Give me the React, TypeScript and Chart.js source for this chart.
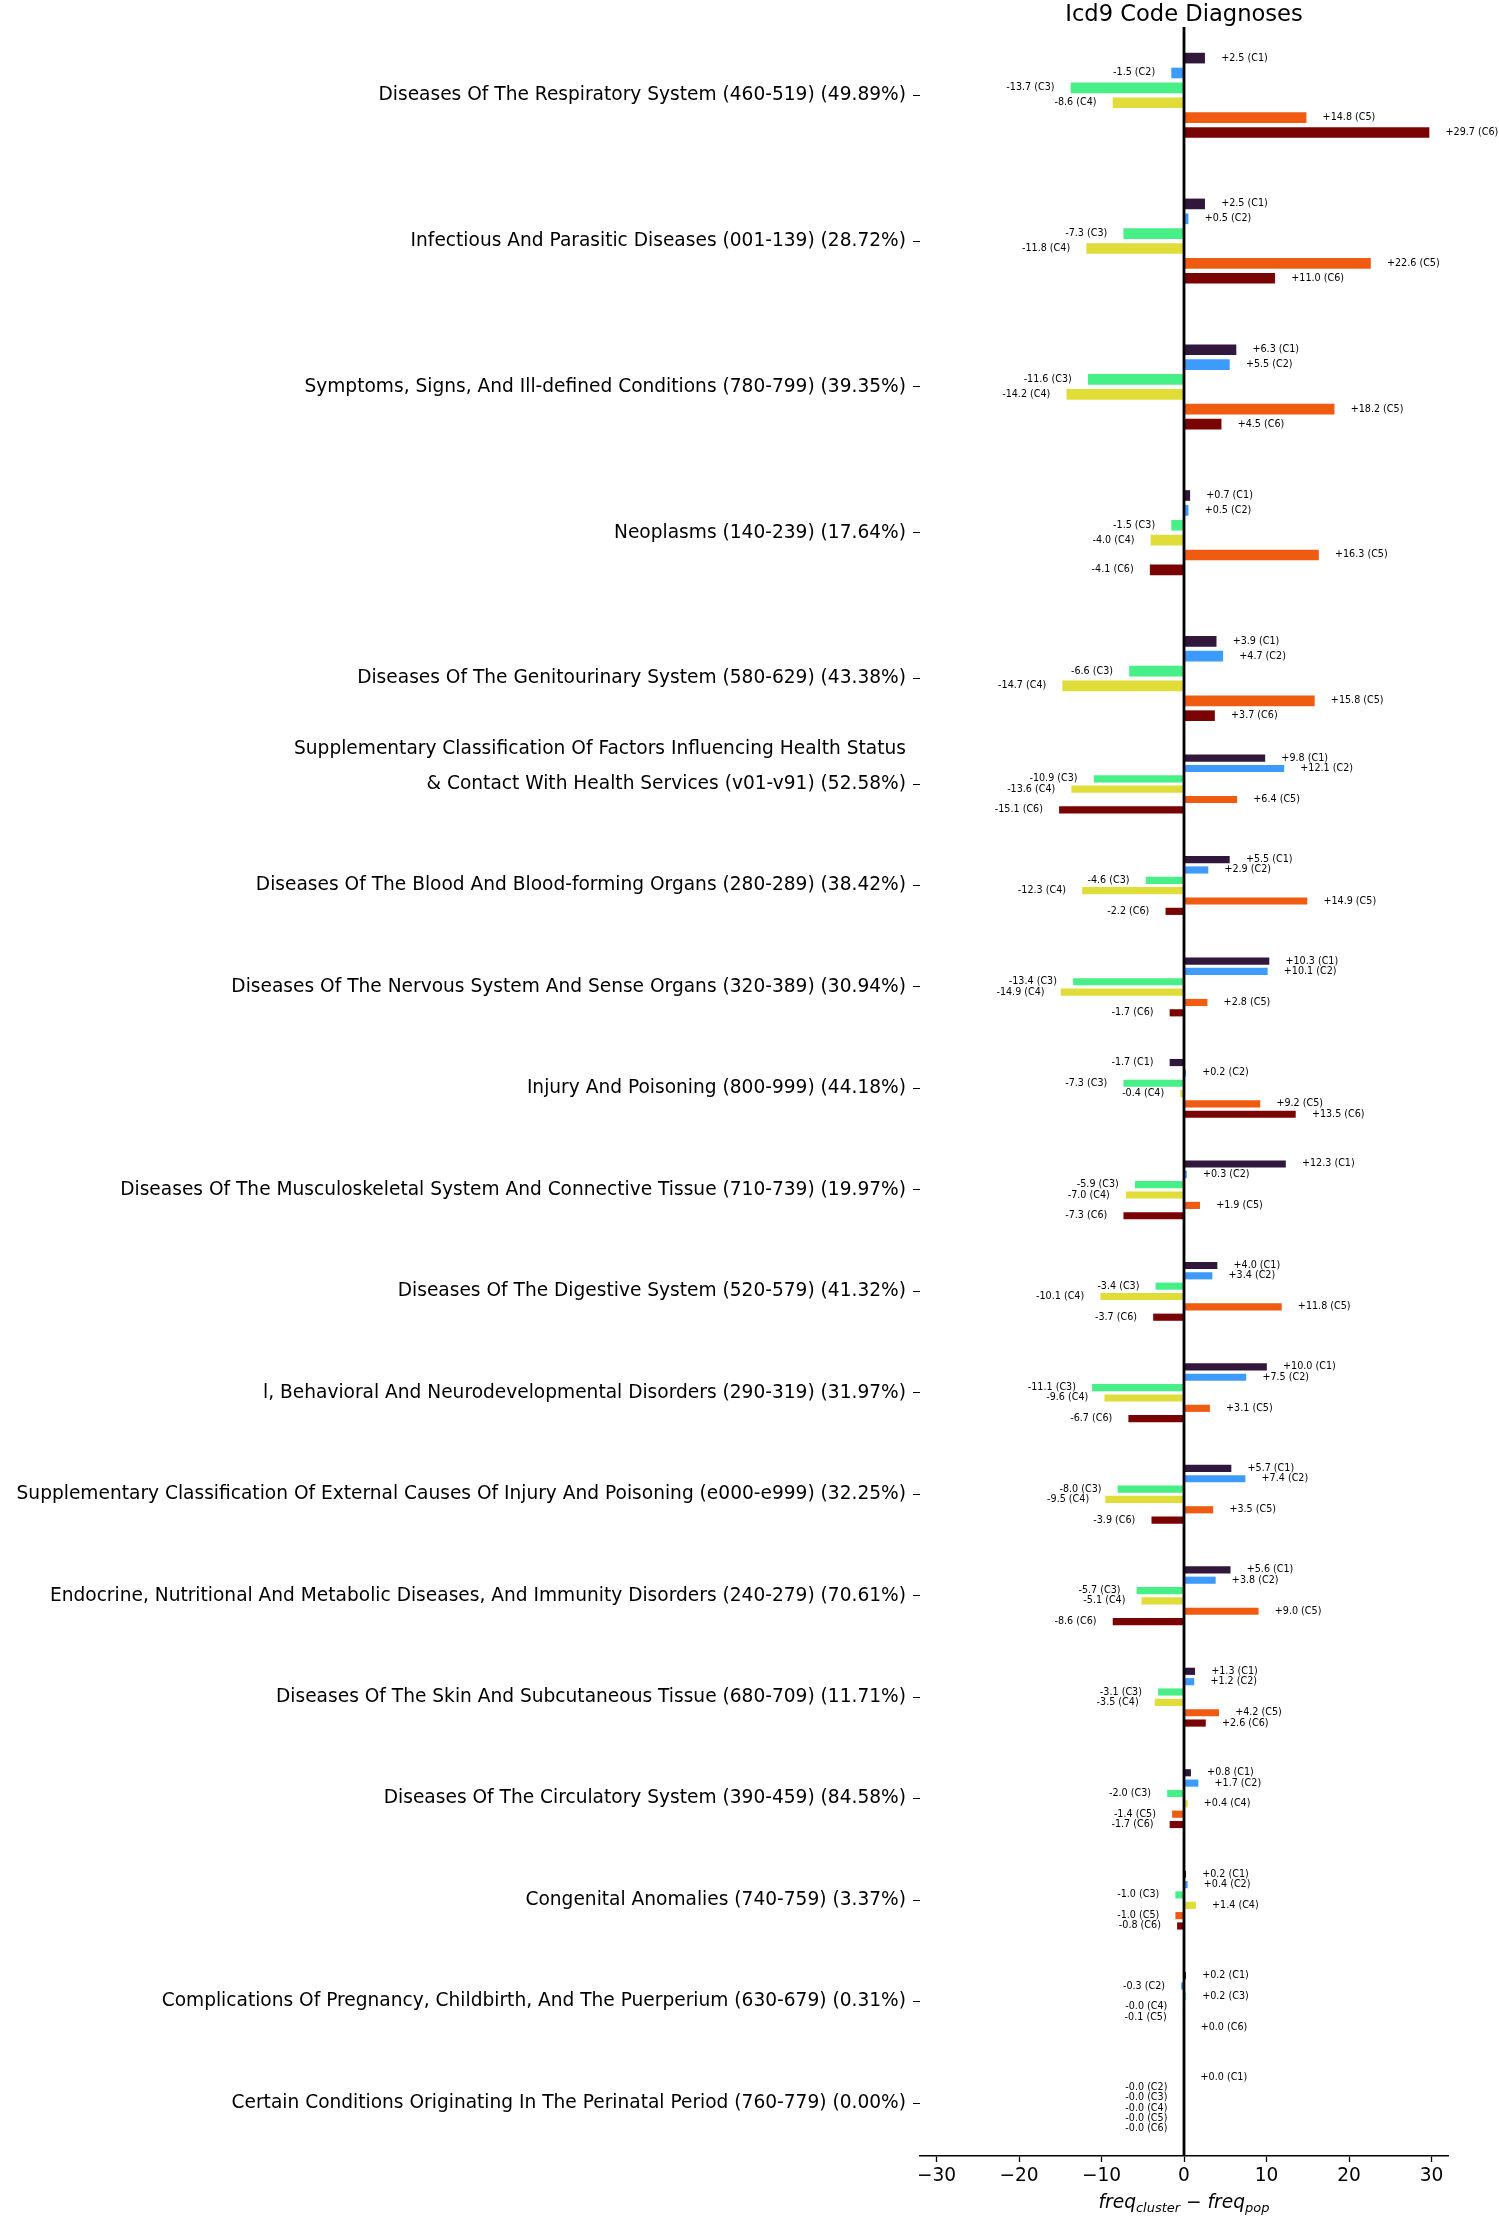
import React, { useEffect, useRef } from "react";
import { Chart, registerables } from "chart.js";

Chart.register(...registerables);

// ---------------- data ----------------
const TITLE = "Icd9 Code Diagnoses";

const CATEGORIES: (string | string[])[] = [
  "Diseases Of The Respiratory System (460-519) (49.89%)",
  "Infectious And Parasitic Diseases (001-139) (28.72%)",
  "Symptoms, Signs, And Ill-defined Conditions (780-799) (39.35%)",
  "Neoplasms (140-239) (17.64%)",
  "Diseases Of The Genitourinary System (580-629) (43.38%)",
  [
    "Supplementary Classification Of Factors Influencing Health Status",
    "& Contact With Health Services (v01-v91) (52.58%)",
    "",
  ],
  "Diseases Of The Blood And Blood-forming Organs (280-289) (38.42%)",
  "Diseases Of The Nervous System And Sense Organs (320-389) (30.94%)",
  "Injury And Poisoning (800-999) (44.18%)",
  "Diseases Of The Musculoskeletal System And Connective Tissue (710-739) (19.97%)",
  "Diseases Of The Digestive System (520-579) (41.32%)",
  "l, Behavioral And Neurodevelopmental Disorders (290-319) (31.97%)",
  "Supplementary Classification Of External Causes Of Injury And Poisoning (e000-e999) (32.25%)",
  "Endocrine, Nutritional And Metabolic Diseases, And Immunity Disorders (240-279) (70.61%)",
  "Diseases Of The Skin And Subcutaneous Tissue (680-709) (11.71%)",
  "Diseases Of The Circulatory System (390-459) (84.58%)",
  "Congenital Anomalies (740-759) (3.37%)",
  "Complications Of Pregnancy, Childbirth, And The Puerperium (630-679) (0.31%)",
  "Certain Conditions Originating In The Perinatal Period (760-779) (0.00%)",
];

const CLUSTERS = ["C1", "C2", "C3", "C4", "C5", "C6"];

const C1_VALUES = [2.5, 2.5, 6.3, 0.7, 3.9, 9.8, 5.5, 10.3, -1.7, 12.3, 4.0, 10.0, 5.7, 5.6, 1.3, 0.8, 0.2, 0.2, 0.01];
const C2_VALUES = [-1.5, 0.5, 5.5, 0.5, 4.7, 12.1, 2.9, 10.1, 0.2, 0.3, 3.4, 7.5, 7.4, 3.8, 1.2, 1.7, 0.4, -0.3, -0.01];
const C3_VALUES = [-13.7, -7.3, -11.6, -1.5, -6.6, -10.9, -4.6, -13.4, -7.3, -5.9, -3.4, -11.1, -8.0, -5.7, -3.1, -2.0, -1.0, 0.2, -0.01];
const C4_VALUES = [-8.6, -11.8, -14.2, -4.0, -14.7, -13.6, -12.3, -14.9, -0.4, -7.0, -10.1, -9.6, -9.5, -5.1, -3.5, 0.4, 1.4, -0.02, -0.01];
const C5_VALUES = [14.8, 22.6, 18.2, 16.3, 15.8, 6.4, 14.9, 2.8, 9.2, 1.9, 11.8, 3.1, 3.5, 9.0, 4.2, -1.4, -1.0, -0.1, -0.01];
const C6_VALUES = [29.7, 11.0, 4.5, -4.1, 3.7, -15.1, -2.2, -1.7, 13.5, -7.3, -3.7, -6.7, -3.9, -8.6, 2.6, -1.7, -0.8, 0.02, -0.01];

const SERIES = [C1_VALUES, C2_VALUES, C3_VALUES, C4_VALUES, C5_VALUES, C6_VALUES];

const X_TICKS = [-30, -20, -10, 0, 10, 20, 30];

// ---------------- layout / style ----------------
const W = 1499;
const H = 2219;
const FONT = "'DejaVu Sans', 'Noto Sans', sans-serif";
const COLORS = ["#32173d", "#3e9bfe", "#47f087", "#e0dc38", "#f05b12", "#7a0403"];

const TOP_ROWS = 5; // the first rows are drawn taller in the reference
const TOP_STRETCH = 1.437;
const JOIN_GAP = 1.04;
const BAR_STEP = 0.102;
const LABEL_GAP = 2; // data units between bar end and its annotation

const rowPos = (i: number) =>
  i < TOP_ROWS ? i * TOP_STRETCH : (TOP_ROWS - 1) * TOP_STRETCH + JOIN_GAP + (i - TOP_ROWS);
const rowScale = (i: number) => (i < TOP_ROWS ? TOP_STRETCH : 1);
const ROW_POSITIONS = CATEGORIES.map((_, i) => rowPos(i));
const Y_MIN = -0.673;
const Y_MAX = rowPos(CATEGORIES.length - 1) + 0.522;

function buildDatasets() {
  const out: any[] = [];
  SERIES.forEach((vals, k) => {
    const parts = [
      { idx: vals.map((_, i) => i).filter((i) => i < TOP_ROWS), thick: 10 },
      { idx: vals.map((_, i) => i).filter((i) => i >= TOP_ROWS), thick: 6.5 },
    ];
    parts.forEach((p) => {
      out.push({
        label: CLUSTERS[k],
        cluster: CLUSTERS[k],
        data: p.idx.map((i) => ({
          x: vals[i],
          y: ROW_POSITIONS[i] + (k - 2.5) * BAR_STEP * rowScale(i),
        })),
        backgroundColor: COLORS[k],
        borderWidth: 0,
        barThickness: p.thick,
        stack: "all",
      });
    });
  });
  return out;
}

const annotPlugin = {
  id: "annotations",
  afterDatasetsDraw(chart: any) {
    const ctx = chart.ctx;
    const xs = chart.scales.x;
    const area = chart.chartArea;
    ctx.save();
    // vertical line at zero
    const x0 = xs.getPixelForValue(0);
    ctx.strokeStyle = "#000";
    ctx.lineWidth = 2.8;
    ctx.beginPath();
    ctx.moveTo(x0, area.top);
    ctx.lineTo(x0, area.bottom);
    ctx.stroke();
    // bar annotations
    ctx.font = `9.6px ${FONT}`;
    ctx.fillStyle = "#000";
    ctx.textBaseline = "middle";
    chart.data.datasets.forEach((ds: any, di: number) => {
      const meta = chart.getDatasetMeta(di);
      meta.data.forEach((el: any, i: number) => {
        const v = ds.data[i].x;
        const pos = v >= 0;
        const tx = xs.getPixelForValue(v + (pos ? LABEL_GAP : -LABEL_GAP));
        ctx.textAlign = pos ? "left" : "right";
        ctx.fillText(`${pos ? "+" : "-"}${Math.abs(v).toFixed(1)} (${ds.cluster})`, tx, el.y);
      });
    });
    ctx.restore();
  },
  afterDraw(chart: any) {
    const ctx = chart.ctx;
    const area = chart.chartArea;
    const cx = (area.left + area.right) / 2;
    ctx.save();
    ctx.fillStyle = "#000";
    // title
    ctx.font = `22.6px ${FONT}`;
    ctx.textAlign = "center";
    ctx.textBaseline = "alphabetic";
    ctx.fillText(TITLE, cx, area.top - 6.3);
    // x axis title: freq_cluster − freq_pop
    const main = 18.6;
    const sub = 13;
    const parts = [
      { t: "freq", f: `italic ${main}px ${FONT}`, dy: 0 },
      { t: "cluster", f: `italic ${sub}px ${FONT}`, dy: 3.5 },
      { t: " \u2212 ", f: `${main}px ${FONT}`, dy: 0 },
      { t: "freq", f: `italic ${main}px ${FONT}`, dy: 0 },
      { t: "pop", f: `italic ${sub}px ${FONT}`, dy: 3.5 },
    ];
    let total = 0;
    const widths = parts.map((p) => {
      ctx.font = p.f;
      const w = ctx.measureText(p.t).width;
      total += w;
      return w;
    });
    let x = cx - total / 2;
    const base = area.bottom + 52;
    ctx.textAlign = "left";
    parts.forEach((p, i) => {
      ctx.font = p.f;
      ctx.fillText(p.t, x, base + p.dy);
      x += widths[i];
    });
    ctx.restore();
  },
};

export default function App() {
  const ref = useRef<HTMLCanvasElement | null>(null);

  useEffect(() => {
    document.body.style.margin = "0";
    const canvas = ref.current;
    if (!canvas) return;
    const chart = new Chart(canvas, {
      type: "bar",
      data: { datasets: buildDatasets() },
      plugins: [annotPlugin],
      options: {
        indexAxis: "y",
        animation: false,
        responsive: false,
        devicePixelRatio: 1,
        layout: { padding: { top: 27, right: 51, left: 0, bottom: 0 } },
        plugins: {
          legend: { display: false },
          tooltip: { enabled: false },
          title: { display: false },
        },
        scales: {
          x: {
            type: "linear",
            min: -32,
            max: 32,
            stacked: false,
            afterBuildTicks: (scale: any) => {
              scale.ticks = X_TICKS.map((v) => ({ value: v }));
            },
            afterFit: (scale: any) => {
              scale.height = 63;
            },
            ticks: {
              color: "#000",
              font: { family: FONT, size: 18.6 },
              padding: 3,
              maxRotation: 0,
              autoSkip: false,
              callback: (v: any) => (v < 0 ? `\u2212${-v}` : `${v}`),
            },
            grid: {
              display: true,
              drawOnChartArea: false,
              drawTicks: true,
              tickLength: 6,
              tickColor: "#000",
              tickWidth: 1.3,
              color: "rgba(0,0,0,0)",
            },
            border: { display: true, color: "#000", width: 1.6 },
          },
          y: {
            type: "linear",
            reverse: true,
            min: Y_MIN,
            max: Y_MAX,
            offset: false,
            afterBuildTicks: (scale: any) => {
              scale.ticks = ROW_POSITIONS.map((v) => ({ value: v }));
            },
            afterFit: (scale: any) => {
              scale.width = 920;
            },
            ticks: {
              color: "#000",
              font: { family: FONT, size: 18.6, lineHeight: 1.88 },
              padding: 7,
              autoSkip: false,
              callback: (_v: any, index: number) => CATEGORIES[index],
            },
            grid: {
              display: true,
              offset: false,
              drawOnChartArea: false,
              drawTicks: true,
              tickLength: 7,
              tickColor: "#000",
              tickWidth: 1,
              color: "rgba(0,0,0,0)",
            },
            border: { display: false },
          },
        },
      } as any,
    });
    return () => chart.destroy();
  }, []);

  return (
    <div style={{ position: "absolute", left: 0, top: 0, width: W, height: H, background: "#fff" }}>
      <canvas ref={ref} width={W} height={H} style={{ display: "block", width: W, height: H }} />
    </div>
  );
}
